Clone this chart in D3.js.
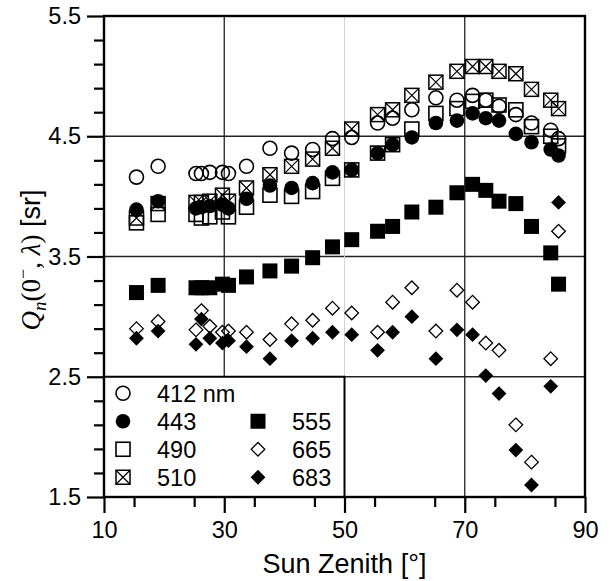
<!DOCTYPE html>
<html><head><meta charset="utf-8">
<script src="https://cdn.jsdelivr.net/npm/d3@7"></script>
<style>body{margin:0;background:#fff} svg{display:block}</style>
</head><body><div id="chart"></div>
<script>
// ---- data ----
const zenith = [15.4, 19.0, 25.3, 26.2, 27.6, 29.7, 30.7, 33.7, 37.6, 41.2, 44.7, 48.0, 51.2, 55.5, 58.0, 61.2, 65.2, 68.7, 71.3, 73.5, 75.7, 78.5, 81.1, 84.3, 85.6];
const q412 = [4.16, 4.25, 4.19, 4.19, 4.20, 4.20, 4.19, 4.25, 4.40, 4.36, 4.39, 4.48, 4.49, 4.61, 4.65, 4.72, 4.82, 4.80, 4.84, 4.80, 4.75, 4.68, 4.61, 4.55, 4.48];
const q443 = [3.89, 3.96, 3.90, 3.91, 3.92, 3.93, 3.90, 3.98, 4.09, 4.07, 4.11, 4.20, 4.22, 4.36, 4.43, 4.49, 4.61, 4.63, 4.69, 4.65, 4.63, 4.52, 4.45, 4.39, 4.34];
const q490 = [3.78, 3.85, 3.85, 3.82, 3.83, 3.87, 3.83, 3.91, 4.01, 4.00, 4.04, 4.15, 4.22, 4.36, 4.43, 4.56, 4.69, 4.73, 4.79, 4.80, 4.76, 4.72, 4.58, 4.50, 4.42];
const q510 = [3.82, 3.94, 3.95, 3.95, 3.96, 4.01, 3.96, 4.07, 4.18, 4.25, 4.31, 4.40, 4.56, 4.68, 4.72, 4.84, 4.95, 5.04, 5.08, 5.08, 5.04, 5.02, 4.89, 4.80, 4.73];
const q555 = [3.20, 3.26, 3.24, 3.24, 3.24, 3.27, 3.26, 3.33, 3.38, 3.42, 3.49, 3.58, 3.64, 3.71, 3.75, 3.87, 3.91, 4.03, 4.10, 4.05, 3.96, 3.94, 3.75, 3.53, 3.27];
const q665 = [2.90, 2.96, 2.89, 3.05, 2.92, 2.87, 2.88, 2.87, 2.81, 2.94, 2.97, 3.07, 3.03, 2.87, 3.12, 3.24, 2.88, 3.22, 3.12, 2.78, 2.72, 2.10, 1.79, 2.65, 3.71];
const q683 = [2.82, 2.88, 2.77, 2.98, 2.82, 2.78, 2.80, 2.75, 2.65, 2.80, 2.82, 2.87, 2.85, 2.72, 2.87, 3.00, 2.65, 2.89, 2.85, 2.51, 2.36, 1.89, 1.60, 2.42, 3.95];
const seriesLabels = ["412 nm", "443", "490", "510", "555", "665", "683"];
const xTickValues = [10, 30, 50, 70, 90];
const yTickValues = [1.5, 2.5, 3.5, 4.5, 5.5];

// ---- layout ----
const W = 610, H = 581;
const x = d3.scaleLinear().domain([10, 90]).range([104, 585]);
const y = d3.scaleLinear().domain([1.5, 5.5]).range([497, 16]);
const svg = d3.select("#chart").append("svg").attr("width", W).attr("height", H)
  .style("font-family", "'Liberation Sans', Arial, sans-serif");

// marker shapes
const shapes = {
  openCircle: g => g.append("circle").attr("r", 7).attr("fill", "none").attr("stroke", "#000").attr("stroke-width", 1.6),
  fillCircle: g => g.append("circle").attr("r", 7.3).attr("fill", "#000"),
  openSquare: g => g.append("rect").attr("x", -7).attr("y", -7).attr("width", 14).attr("height", 14).attr("fill", "none").attr("stroke", "#000").attr("stroke-width", 1.6),
  crossSquare: g => {
    g.append("rect").attr("x", -7).attr("y", -7).attr("width", 14).attr("height", 14).attr("fill", "none").attr("stroke", "#000").attr("stroke-width", 1.5);
    g.append("path").attr("d", "M-7,-7L7,7M7,-7L-7,7").attr("stroke", "#000").attr("stroke-width", 1.2);
  },
  fillSquare: g => g.append("rect").attr("x", -7.5).attr("y", -7.5).attr("width", 15).attr("height", 15).attr("fill", "#000"),
  openDiamond: g => g.append("path").attr("d", "M0,-6.8L6.8,0L0,6.8L-6.8,0Z").attr("fill", "none").attr("stroke", "#000").attr("stroke-width", 1.3),
  fillDiamond: g => g.append("path").attr("d", "M0,-7.4L7.4,0L0,7.4L-7.4,0Z").attr("fill", "#000")
};

const series = [
  {label: seriesLabels[0], values: q412, shape: "openCircle"},
  {label: seriesLabels[1], values: q443, shape: "fillCircle"},
  {label: seriesLabels[2], values: q490, shape: "openSquare"},
  {label: seriesLabels[3], values: q510, shape: "crossSquare"},
  {label: seriesLabels[4], values: q555, shape: "fillSquare"},
  {label: seriesLabels[5], values: q665, shape: "openDiamond"},
  {label: seriesLabels[6], values: q683, shape: "fillDiamond"}
];

// ---- gridlines ----
const grid = svg.append("g");
grid.selectAll("line.h").data([2.5, 3.5, 4.5]).join("line")
  .attr("x1", x(10)).attr("x2", x(90)).attr("y1", d => y(d)).attr("y2", d => y(d))
  .attr("stroke", "#222").attr("stroke-width", 1.3);
grid.selectAll("line.v").data([30, 50, 70]).join("line")
  .attr("x1", d => x(d)).attr("x2", d => x(d)).attr("y1", y(5.5)).attr("y2", y(1.5))
  .attr("stroke", d => d === 50 ? "#d4d4d4" : "#222").attr("stroke-width", d => d === 50 ? 1 : 1.3);

// ---- data markers (open first, filled on top) ----
const drawOrder = [0, 2, 3, 5, 1, 4, 6];
drawOrder.forEach(si => {
  const s = series[si];
  const gs = svg.append("g");
  s.values.forEach((v, i) => {
    const g = gs.append("g").attr("transform", `translate(${x(zenith[i])},${y(v)})`);
    shapes[s.shape](g);
  });
});

// ---- legend (box spans 10..50, 1.5..2.5) ----
const lg = svg.append("g");
lg.append("rect").attr("x", x(10)).attr("y", y(2.5)).attr("width", x(50) - x(10)).attr("height", y(1.5) - y(2.5))
  .attr("fill", "#fff").attr("stroke", "#000").attr("stroke-width", 2);
const legendPos = [[0,0],[0,1],[0,2],[0,3],[1,1],[1,2],[1,3]];
series.forEach((s, i) => {
  const [col, row] = legendPos[i];
  const sx = x(10) + 19 + col * 135, sy = y(2.5) + 16.5 + row * 28;
  const g = lg.append("g").attr("transform", `translate(${sx},${sy})`);
  shapes[s.shape](g);
  lg.append("text").attr("x", sx + 34).attr("y", sy).attr("dy", "0.36em")
    .attr("font-size", 23.5).text(s.label);
});

// ---- axes ----
const minorY = d3.range(1.5, 5.51, 0.2).map(d => +d.toFixed(2)).filter(d => !yTickValues.some(t => Math.abs(t - d) < 1e-6));
const minorX = d3.range(15, 90, 10);
const yAxisMinor = svg.append("g").attr("transform", `translate(${x(10)},0)`)
  .call(d3.axisLeft(y).tickValues(minorY).tickSize(10).tickFormat(""));
const yAxis = svg.append("g").attr("transform", `translate(${x(10)},0)`)
  .call(d3.axisLeft(y).tickValues(yTickValues).tickSize(17).tickPadding(6).tickFormat(d3.format(".1f")));
const xAxisMinor = svg.append("g").attr("transform", `translate(0,${y(1.5)})`)
  .call(d3.axisBottom(x).tickValues(minorX).tickSize(10).tickFormat(""));
const xAxis = svg.append("g").attr("transform", `translate(0,${y(1.5)})`)
  .call(d3.axisBottom(x).tickValues(xTickValues).tickSize(16).tickPadding(8.5));
[yAxisMinor, yAxis, xAxisMinor, xAxis].forEach(a => {
  a.select(".domain").remove();
  a.selectAll("line").attr("stroke", "#000").attr("stroke-width", 2.2);
  a.selectAll("text").attr("font-size", 23.5).attr("fill", "#000")
    .style("font-family", "'Liberation Sans', Arial, sans-serif");
});

// ---- frame ----
svg.append("rect").attr("x", x(10)).attr("y", y(5.5)).attr("width", x(90) - x(10)).attr("height", y(1.5) - y(5.5))
  .attr("fill", "none").attr("stroke", "#000").attr("stroke-width", 2.4);

// ---- axis titles ----
svg.append("text").attr("x", x(50)).attr("y", 573).attr("text-anchor", "middle")
  .attr("font-size", 27).text("Sun Zenith [°]");

const yt = svg.append("text").attr("transform", `translate(40,260) rotate(-90)`)
  .attr("text-anchor", "middle").attr("font-size", 27);
const serif = "'Liberation Serif', 'DejaVu Serif', serif";
yt.append("tspan").style("font-family", serif).style("font-style", "italic").text("Q");
yt.append("tspan").style("font-family", serif).style("font-style", "italic").attr("font-size", 19).attr("dy", 6).text("n");
yt.append("tspan").style("font-family", serif).attr("dy", -6).text("(0");
yt.append("tspan").style("font-family", serif).attr("font-size", 18).attr("dy", -11).text("−");
yt.append("tspan").style("font-family", serif).attr("dy", 11).text(", ");
yt.append("tspan").style("font-family", serif).style("font-style", "italic").text("λ");
yt.append("tspan").style("font-family", serif).text(")");
yt.append("tspan").text(" [sr]");
</script></body></html>
